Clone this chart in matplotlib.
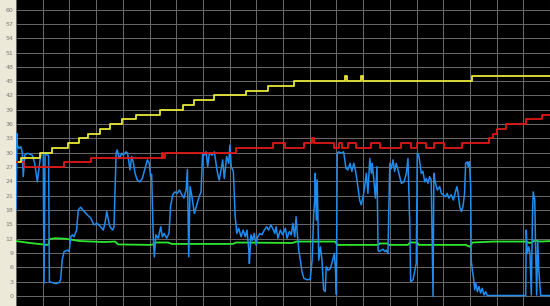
import matplotlib
matplotlib.use('Agg')
import matplotlib.pyplot as plt

# yellow and red: step series (x where value changes)
yellow_x = [1.1, 1.9, 9.0, 13.5, 19.5, 23.6, 27.0, 31.5, 35.2, 39.7, 44.9, 53.9, 62.5, 66.7, 74.2,
            86.1, 94.4, 104.1, 123.2, 123.8, 129.3, 129.8, 170.7, 200]
yellow_y = [28, 29, 30, 31, 32, 33, 34, 35, 36, 37, 38, 39, 40, 41, 42,
            43, 44, 45, 46, 45, 46, 45, 46, 46]

red_x = [0, 3.0, 18.0, 28.1, 54.6, 55.2, 55.8, 82.4, 96.3, 100.9, 107.8, 111.0, 111.5, 119.0,
         120.9, 122.1, 124.2, 127.2, 133.1, 136.2, 144.3, 148.1, 150.3, 153.7, 156.5, 160.3,
         167.2, 177.2, 178.8, 180.3, 183.4, 190.9, 197.0, 200]
red_y = [28, 27, 28, 29, 30, 29, 30, 31, 32, 31, 32, 33, 32, 31,
         32, 31, 32, 31, 32, 31, 32, 31, 32, 31, 32, 31,
         32, 33, 34, 35, 36, 37, 38, 38]

green_x = [0, 5.2, 11.6, 12.2, 12.5, 14.6, 18.4, 24.0, 33.0, 37.1, 38.2, 50.2, 51.4, 52.1, 56.9,
           58.4, 81.2, 82.4, 103.4, 105.2, 119.5, 120.4, 135.6, 136.3, 139.0, 139.7, 146.8,
           147.6, 150.2, 150.9, 168.5, 170.0, 170.9, 179.0, 191.0, 192.5, 194.4, 196.3, 200]
green_y = [11.5, 11.1, 10.7, 10.8, 11.9, 12.1, 12.0, 11.5, 11.3, 11.4, 10.8, 10.7, 10.8, 11.2, 11.2,
           10.9, 10.9, 11.2, 11.1, 11.4, 11.4, 10.7, 10.7, 11.0, 11.0, 10.7, 10.7,
           11.2, 11.2, 10.7, 10.7, 10.3, 11.2, 11.4, 11.4, 11.1, 11.6, 11.4, 11.5]

blue_x = [0.0, 0.4, 0.5, 1.1, 1.8, 2.4, 2.7, 3.3, 4.2, 6.1, 7.0, 8.0, 9.0, 9.5, 10.2, 10.5, 10.9,
          11.7, 12.2, 12.5, 13.5, 15.0, 16.1, 16.7, 17.3, 18.0, 19.2, 19.9, 20.5, 21.1, 21.7,
          22.7, 23.3, 24.2, 25.5, 26.7, 28.0, 29.2, 30.4, 31.7, 32.7, 33.3, 34.0, 34.6, 35.2,
          36.2, 36.7, 37.5, 37.9, 38.7, 39.6, 40.2, 41.2, 41.8, 42.7, 43.3, 43.9, 44.6, 45.4,
          46.4, 47.3, 48.3, 49.2, 49.9, 50.4, 50.8, 51.4, 51.8, 52.4, 53.3, 54.2, 54.8, 55.5,
          56.4, 57.3, 57.9, 58.7, 59.5, 60.4, 61.2, 62.1, 62.9, 63.7, 64.2, 64.7, 65.2, 65.9,
          66.8, 67.7, 68.6, 69.3, 69.9, 70.5, 71.2, 71.8, 72.4, 73.4, 74.3, 74.9, 75.5, 76.1,
          76.8, 77.4, 78.0, 78.9, 79.7, 80.1, 80.6, 81.4, 82.1, 82.7, 83.4, 84.3, 85.1, 85.9,
          86.5, 87.2, 87.4, 88.0, 88.6, 89.2, 89.9, 90.5, 91.4, 92.1, 93.0, 93.9, 94.6, 95.5,
          96.4, 96.9, 97.4, 98.1, 99.0, 99.9, 100.9, 101.5, 102.4, 103.1, 103.7, 104.4, 104.9,
          105.4, 105.9, 106.5, 107.1, 107.8, 109.0, 110.2, 110.9, 111.5, 111.9, 112.1, 112.5,
          112.8, 113.4, 114.0, 114.6, 115.2, 115.8, 116.2, 116.9, 117.7, 118.6, 119.2, 119.6,
          120.0, 120.3, 120.9, 121.8, 122.7, 123.6, 124.3, 125.1, 125.8, 126.5, 127.1, 127.7,
          128.3, 128.7, 129.3, 130.0, 130.6, 131.2, 131.8, 132.5, 133.1, 133.4, 134.1, 134.6,
          135.2, 135.6, 136.0, 136.8, 137.5, 138.1, 138.7, 139.3, 140.0, 140.6, 141.2, 141.8,
          142.4, 143.1, 143.7, 144.3, 145.3, 146.2, 146.8, 147.5, 147.8, 148.7, 149.3, 149.9,
          150.3, 150.8, 151.3, 151.8, 152.4, 153.1, 153.7, 154.3, 154.9, 155.5, 156.2, 156.5,
          157.0, 157.8, 158.7, 159.3, 159.9, 160.8, 161.5, 162.1, 163.0, 163.8, 164.3, 165.1,
          165.5, 166.2, 166.8, 167.4, 168.0, 168.4, 169.0, 169.4, 169.8, 170.3, 170.5, 170.9,
          171.3, 171.8, 172.2, 172.8, 173.4, 174.0, 174.6, 175.3, 175.9, 176.5, 190.9, 191.1,
          191.5, 192.1, 192.5, 193.0, 193.4, 193.7, 194.3, 194.6, 195.0, 195.4, 195.8, 196.5, 200]
blue_y = [18, 34, 31.6, 30.9, 31.3, 29.9, 25, 29.5, 29.9, 29.5, 27.8, 23.9, 28.5, 29.9, 29.9, 2.7, 29.9,
          29.5, 29.5, 3.0, 2.8, 2.6, 2.8, 3.4, 7.5, 9.3, 9.6, 9.3, 12.4, 12.8, 12.4,
          13.8, 18, 18.6, 17.7, 17, 16.3, 14.9, 15.2, 14.5, 13.8, 15.2, 17.7, 15.9, 14.5,
          13.8, 14.5, 29.9, 30.6, 28.8, 29.9, 29.5, 30.2, 29.9, 26.4, 29.2, 28.1, 25.7, 24.3,
          23.9, 24.6, 26.7, 28.5, 27.8, 25, 25.5, 12.4, 8.2, 12.8, 12.1, 14.5, 12.4, 13.1,
          12.1, 13.1, 18.8, 21.2, 21.8, 21.5, 22.2, 21.2, 20.5, 22.2, 26.5, 8.2, 22.9, 20.8,
          17.3, 19.1, 20.8, 21.8, 29.9, 29.5, 30.2, 27.1, 29.9, 29.5, 30.2, 27.8, 25.7, 24.3,
          26.4, 28.5, 24.6, 29.2, 27.8, 31.6, 27.1, 26.1, 16.6, 13.1, 14.2, 12.4, 13.8, 12.4,
          13.8, 9.6, 6.8, 12.8, 11.7, 13.1, 10.7, 12.4, 13.1, 12.8, 13.8, 14.5, 13.8, 14.9,
          13.8, 13.1, 14.5, 12.1, 13.8, 12.8, 14.2, 12.1, 13.5, 12.8, 15.2, 12.4, 16.6,
          12.8, 9.6, 7.5, 5.1, 3.7, 3.4, 3.5, 7.5, 17.3, 20.1, 25.7, 15.9,
          24.3, 7.5, 10.3, 7.5, 1.3, 0.9, 6.1, 5.4, 5.7, 7.5, 8.9, 6.1,
          0.3, 29.9, 30.2, 29.9, 30.2, 26.7, 26.4, 27.8, 26.1, 27.8, 26.4, 24.3,
          21.8, 20.1, 19.1, 20.8, 22.9, 25.7, 21.5, 28.8, 25.7, 27.8, 23.9, 20.5,
          27.1, 9.6, 9.3, 9.6, 9.8, 9.3, 9.6, 8.9, 27.8, 26.7, 28.5, 26.1,
          27.8, 26.4, 25, 23.6, 23.9, 25.7, 28.8, 14.5, 3.0, 3.4, 5.1, 6.8,
          29.9, 29.5, 27.8, 25.7, 26.1, 23.9, 24.6, 23.6, 25, 24.3, -0.1, 25.7,
          23.9, 22.2, 22.9, 21.5, 21.2, 20.8, 21.5, 20.5, 21.2, 20.1, 21.2, 22.9,
          21.8, 18.7, 17.7, 18.7, 21.5, 27.8, 28.1, 27.1, 28.1, 22.9, 7.5, 5.4,
          4.0, 1.3, 2.7, 0.9, 2.0, 0.6, 1.6, 0.2, 0.9, 0.1, 0.1, 13.8,
          8.9, 10.3, 8.9, 0.2, 15.9, 21.8, 20.1, 10.3, 0.2, 11.5, 5.4, 0.1, 0.1]

y_ticks = list(range(0, 61, 3))
x_grid = list(range(0, 201, 10))

fig = plt.figure(figsize=(5.5, 3.06), dpi=100, facecolor='#ece9d8')
ax = fig.add_axes([16 / 550, 0, 534 / 550, 1])
ax.set_facecolor('black')

ax.plot(green_x, green_y, color='#2ee62e', lw=1.3)
ax.plot(blue_x, blue_y, color='#1e8cf0', lw=1.1)
ax.plot(red_x, red_y, color='#e01818', lw=1.3, drawstyle='steps-post')
ax.plot(yellow_x, yellow_y, color='#e8e83a', lw=1.3, drawstyle='steps-post')

ax.set_xlim(0, 200)
ax.set_ylim(-2.1, 62)
ax.set_xticks(x_grid)
ax.set_yticks(y_ticks)
ax.set_xticklabels([])
ax.tick_params(axis='x', length=0)
ax.tick_params(axis='y', length=0, pad=2, labelsize=4.5, labelcolor='#7a7a7a')
ax.grid(True, color='#666666', lw=0.75)
ax.set_axisbelow(True)
for s in ax.spines.values():
    s.set_visible(False)

fig.savefig('out.png', dpi=100, facecolor=fig.get_facecolor())
